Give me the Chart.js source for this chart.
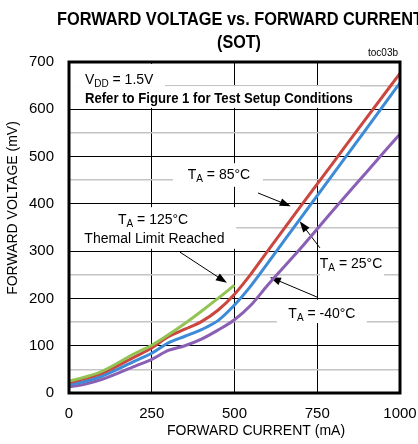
<!DOCTYPE html>
<html>
<head>
<meta charset="utf-8">
<script src="https://cdn.jsdelivr.net/npm/chart.js@4.4.1/dist/chart.umd.min.js"></script>
<style>
  html, body { margin: 0; padding: 0; background: #fff; }
</style>
</head>
<body>
<canvas id="myChart" width="418" height="444"></canvas>
<script>
// forward current (mA)
var current = [0, 50, 100, 200, 250, 300, 350, 400, 450, 500, 550, 600, 700, 800, 900, 1000];
// forward voltage (mV) per ambient temperature
var vf125 = [25, 34, 46, 84, 101, 123, 147, 173, 200, 228];
var vf85 = [22, 31, 42, 77, 95, 119, 135, 151, 175, 209, 252, 300, 395, 489, 583, 676];
var vf25 = [18, 25, 36, 68, 84, 106, 120, 134, 153, 186, 227, 274, 370, 465, 560, 656];
var vfm40 = [13, 19, 29, 57, 71, 90, 100, 114, 133, 155, 186, 228, 306, 388, 468, 548];

var seriesNames = ['TA = 125°C', 'TA = 85°C', 'TA = 25°C', 'TA = -40°C'];
var seriesColors = ['#93c453', '#cc4640', '#3d8bd6', '#8a5fb4'];

var toPoints = function (ys) {
    var pts = [];
    for (var i = 0; i < ys.length; i++) {
        pts.push({ x: current[i], y: ys[i] });
    }
    return pts;
};

var FONT = "'Liberation Sans', Arial, sans-serif";

// text squeezed to a given width (the original uses a condensed face)
function fitText(ctx, txt, x, y, width, font) {
    ctx.font = font;
    var w = ctx.measureText(txt).width;
    ctx.save();
    ctx.translate(x, y);
    ctx.scale(width / w, 1);
    ctx.textAlign = 'left';
    ctx.fillText(txt, 0, 0);
    ctx.restore();
}

// "T" + subscript + rest, centred on cx
function subText(ctx, main, sub, rest, cx, cy) {
    ctx.textAlign = 'left';
    ctx.textBaseline = 'middle';
    ctx.font = '14px ' + FONT;
    var w1 = ctx.measureText(main).width;
    var w3 = ctx.measureText(rest).width;
    ctx.font = '10px ' + FONT;
    var w2 = ctx.measureText(sub).width;
    var x = cx - (w1 + w2 + w3) / 2;
    ctx.font = '14px ' + FONT;
    ctx.fillText(main, x, cy);
    ctx.font = '10px ' + FONT;
    ctx.fillText(sub, x + w1, cy + 4);
    ctx.font = '14px ' + FONT;
    ctx.fillText(rest, x + w1 + w2, cy);
}

function arrow(ctx, x1, y1, x2, y2) {
    var a = Math.atan2(y2 - y1, x2 - x1);
    ctx.strokeStyle = '#000';
    ctx.lineWidth = 1;
    ctx.beginPath();
    ctx.moveTo(x1, y1);
    ctx.lineTo(x2 - 8 * Math.cos(a), y2 - 8 * Math.sin(a));
    ctx.stroke();
    ctx.beginPath();
    ctx.moveTo(x2, y2);
    ctx.lineTo(x2 - 11 * Math.cos(a) + 4 * Math.sin(a), y2 - 11 * Math.sin(a) - 4 * Math.cos(a));
    ctx.lineTo(x2 - 11 * Math.cos(a) - 4 * Math.sin(a), y2 - 11 * Math.sin(a) + 4 * Math.cos(a));
    ctx.closePath();
    ctx.fillStyle = '#000';
    ctx.fill();
}

var notes = {
    id: 'notes',
    beforeDatasetsDraw: function (chart) {
        var ctx = chart.ctx;
        var X = function (v) { return chart.scales.x.getPixelForValue(v); };
        var Y = function (v) { return chart.scales.y.getPixelForValue(v); };
        var box = function (x1, y1, x2, y2) {
            ctx.fillStyle = '#fff';
            ctx.fillRect(X(x1), Y(y2), X(x2) - X(x1), Y(y1) - Y(y2));
        };
        ctx.save();
        // label backgrounds hide the grid
        box(3, 649, 290, 696);
        box(3, 603, 879, 649);
        box(314, 436, 586, 486);
        box(3, 305, 505, 393);
        box(758, 247, 952, 298);
        box(628, 148, 900, 197);

        ctx.fillStyle = '#000';
        ctx.textBaseline = 'middle';
        ctx.textAlign = 'left';
        ctx.font = '14px ' + FONT;
        ctx.fillText('V', X(48), Y(662));
        var vw = ctx.measureText('V').width;
        ctx.font = '10px ' + FONT;
        ctx.fillText('DD', X(48) + vw, Y(662) + 4);
        var dw = ctx.measureText('DD').width;
        ctx.font = '14px ' + FONT;
        ctx.fillText(' = 1.5V', X(48) + vw + dw, Y(662));

        fitText(ctx, 'Refer to Figure 1 for Test Setup Conditions', X(48), Y(622), 268, 'bold 15px ' + FONT);

        ctx.fillStyle = '#000';
        subText(ctx, 'T', 'A', ' = 85°C', X(453), Y(461));
        subText(ctx, 'T', 'A', ' = 125°C', X(254), Y(366));
        ctx.textAlign = 'center';
        ctx.font = '14px ' + FONT;
        ctx.fillText('Themal Limit Reached', X(258), Y(326));
        subText(ctx, 'T', 'A', ' = 25°C', X(852), Y(273));
        subText(ctx, 'T', 'A', ' = -40°C', X(764), Y(167));

        arrow(ctx, X(571), Y(423), X(670), Y(395));
        arrow(ctx, X(335), Y(298), X(477), Y(233));
        arrow(ctx, X(758), Y(307), X(697), Y(363));
        arrow(ctx, X(749), Y(203), X(607), Y(245));
        ctx.restore();
    },
    afterDatasetsDraw: function (chart) {
        var ctx = chart.ctx;
        var a = chart.chartArea;
        ctx.save();
        ctx.strokeStyle = '#000';
        ctx.lineWidth = 3;
        ctx.strokeRect(a.left, a.top, a.right - a.left, a.bottom - a.top);
        ctx.restore();
    },
    afterDraw: function (chart) {
        var ctx = chart.ctx;
        ctx.save();
        ctx.fillStyle = '#000';
        ctx.textBaseline = 'middle';
        fitText(ctx, 'FORWARD VOLTAGE vs. FORWARD CURRENT', 57, 20, 366, 'bold 19px ' + FONT);
        fitText(ctx, '(SOT)', 217, 43, 44, 'bold 19px ' + FONT);
        ctx.font = '10px ' + FONT;
        ctx.textAlign = 'right';
        ctx.fillText('toc03b', 398, 53);
        ctx.font = '14px ' + FONT;
        ctx.textAlign = 'center';
        ctx.fillText('FORWARD CURRENT (mA)', 256, 431);
        ctx.translate(13, 208);
        ctx.rotate(-Math.PI / 2);
        ctx.fillText('FORWARD VOLTAGE (mV)', 0, 0);
        ctx.restore();
    }
};

var allSeries = [vf125, vf85, vf25, vfm40];
var datasets = [];
for (var i = 0; i < allSeries.length; i++) {
    datasets.push({
        label: seriesNames[i],
        data: toPoints(allSeries[i]),
        borderColor: seriesColors[i],
        borderWidth: 3,
        pointRadius: 0,
        fill: false,
        cubicInterpolationMode: 'monotone'
    });
}

const config = {
    type: 'line',
    data: { datasets: datasets },
    options: {
        responsive: false,
        animation: false,
        devicePixelRatio: 1,
        layout: { padding: { top: 62, right: 18, left: 0, bottom: 0 } },
        plugins: { legend: { display: false }, tooltip: { enabled: false }, title: { display: false } },
        scales: {
            x: {
                type: 'linear',
                min: 0,
                max: 1000,
                afterFit: function (scale) {
                    scale.height = 51;
                    scale.paddingLeft = 0;
                    scale.paddingRight = 0;
                },
                ticks: {
                    stepSize: 250,
                    color: '#000',
                    font: { size: 15, family: FONT },
                    padding: 12,
                    maxRotation: 0,
                    callback: function (v) { return String(v); }
                },
                grid: { color: '#000', lineWidth: 1, drawTicks: false },
                border: { display: false }
            },
            y: {
                min: 0,
                max: 700,
                afterFit: function (scale) {
                    scale.width = 69;
                    scale.paddingTop = 0;
                    scale.paddingBottom = 0;
                },
                ticks: {
                    stepSize: 50,
                    color: '#000',
                    font: { size: 15, family: FONT },
                    padding: 15,
                    callback: function (v) { return v % 100 === 0 ? String(v) : ''; }
                },
                grid: {
                    drawTicks: false,
                    color: function (c) { return c.tick.value % 100 === 0 ? '#000' : '#c4c4c4'; },
                    lineWidth: function (c) { return c.tick.value % 100 === 0 ? 1 : 1.5; }
                },
                border: { display: false }
            }
        }
    },
    plugins: [notes]
};

const myChart = new Chart(document.getElementById('myChart'), config);
</script>
</body>
</html>
